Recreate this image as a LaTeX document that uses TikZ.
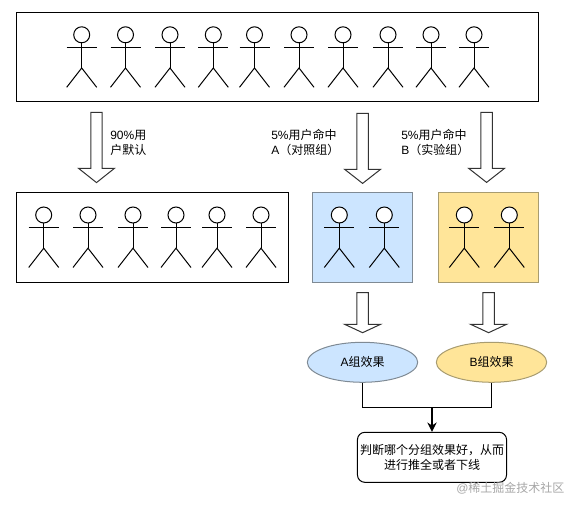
\documentclass[tikz,border=0pt]{standalone}
\usepackage{fontspec}
\setmainfont{Liberation Sans}
\newfontfamily\cjk{Noto Sans CJK SC}
\usetikzlibrary{arrows.meta,calc,shapes.geometric}
\definecolor{bluefill}{HTML}{CCE5FF}
\definecolor{yellowfill}{HTML}{FFE599}
\definecolor{softedge}{HTML}{7F8A94}
\definecolor{softedgey}{HTML}{A89C70}
\tikzset{
  px/.style={x=0.75pt,y=-0.75pt},
  line/.style={draw=black,line width=0.75pt},
  frame/.style={line,minimum width=0,inner sep=0},
  head/.style={circle,draw=black,line width=0.75pt,fill=white,minimum size=12pt,inner sep=0},
  limb/.style={draw=black,line width=0.75pt},
  bigarrow/.style={draw=black!80,line width=0.75pt,fill=white,line join=miter},
  labeltext/.style={anchor=west,align=left,inner sep=0,font=\fontsize{9}{11.25}\selectfont},
  ctext/.style={align=center,inner sep=0,font=\fontsize{9}{11}\selectfont},
  wm/.style={text=black!35,inner sep=0,font=\fontsize{9}{11}\selectfont},
}
% name, x, head y
\newcommand{\actorfig}[3]{%
  \node[head] (#1) at (#2,#3) {};
  \draw[limb] (#1.south) -- ++(0,24.7) coordinate (#1hip);
  \draw[limb] ($(#2,#3)+(-15,12.5)$) -- ($(#2,#3)+(15,12.5)$);
  \draw[limb] ($(#2,#3)+(-15,52.5)$) -- (#1hip) -- ($(#2,#3)+(15,52.5)$);
}
% tip x, top y, head y, tip y
\newcommand{\blockarrow}[4]{%
  \draw[bigarrow] (#1-5.7,#2) -- (#1+5.7,#2) -- (#1+5.7,#3) -- (#1+18,#3) -- (#1,#4) -- (#1-18,#3) -- (#1-5.7,#3) -- (#1-5.7,#2) -- cycle;
}
\begin{document}
\begin{tikzpicture}[px]
\useasboundingbox (0,0) rectangle (577,509);
% top group
\draw[line] (16.8,12.8) rectangle (538.5,102);
\foreach \i/\x in {1/81.7,2/125.5,3/170,4/213.3,5/254.5,6/299,7/343,8/388,9/431,10/474}{
  \actorfig{t\i}{\x}{34.8}
}
% bottom-left group
\draw[line] (16.8,192.5) rectangle (288.7,282.3);
\foreach \i/\x in {1/43.7,2/88,3/133,4/176,5/217,6/261}{
  \actorfig{m\i}{\x}{215}
}
% blue and yellow groups
\draw[draw=softedge,line width=0.75pt,fill=bluefill] (312.4,192.5) rectangle (412.7,282.3);
\draw[draw=softedgey,line width=0.75pt,fill=yellowfill] (438.4,192.5) rectangle (538.7,282.3);
\actorfig{a1}{339.3}{215}
\actorfig{a2}{384.3}{215}
\actorfig{b1}{464.3}{215}
\actorfig{b2}{509.3}{215}
% block arrows
\blockarrow{96.5}{112.4}{168.3}{182.6}
\blockarrow{362.6}{113.4}{169.3}{183.4}
\blockarrow{486.6}{112.4}{168.3}{182.4}
\blockarrow{362.6}{292.5}{324.3}{332.7}
\blockarrow{488.6}{292.5}{324.3}{332.7}
% labels
\node[labeltext] (l1) at (110,142.5) {90\%{\cjk 用}\\{\cjk 户默认}};
\node[labeltext] (l2) at (271,142.5) {5\%{\cjk 用户命中}\\A{\cjk（对照组）}};
\node[labeltext] (l3) at (401,142.5) {5\%{\cjk 用户命中}\\B{\cjk（实验组）}};
% ellipses
\node[ellipse,draw=softedge,line width=0.75pt,fill=bluefill,minimum width=82.8pt,minimum height=30pt,inner sep=0,ctext] (ea) at (362.5,362.3) {A{\cjk 组效果}};
\node[ellipse,draw=softedgey,line width=0.75pt,fill=yellowfill,minimum width=82.8pt,minimum height=30pt,inner sep=0,ctext] (eb) at (491.5,362.3) {B{\cjk 组效果}};
% result
\node[draw=black,line width=0.75pt,rounded corners=5.5pt,minimum width=111.8pt,minimum height=37.5pt,inner sep=0,ctext] (res) at (432,457.3) {{\cjk 判断哪个分组效果好，从而}\\{\cjk 进行推全或者下线}};
% connectors
\coordinate (j) at (res.north |- 0,407.3);
\draw[line] (ea.south) |- (j) -| (eb.south);
\draw[line,line width=1pt,-{Stealth[length=7pt,width=7pt]}] (j) -- (res.north);
% watermark
\node[wm,anchor=west] (mark) at (456,488) {@{\cjk 稀土掘金技术社区}};
\end{tikzpicture}
\end{document}
